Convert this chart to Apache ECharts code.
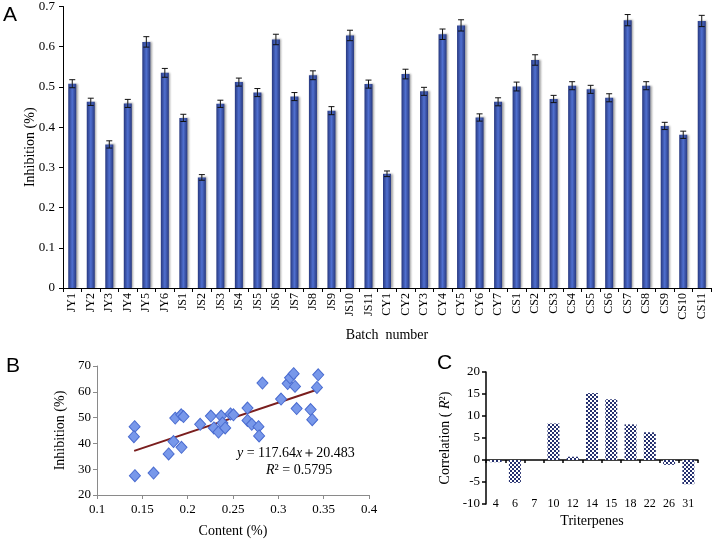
<!DOCTYPE html>
<html>
<head>
<meta charset="utf-8">
<script src="https://cdn.jsdelivr.net/npm/echarts@6/dist/echarts.min.js"></script>
<style>html,body{margin:0;padding:0;background:#fff}#c{width:714px;height:539px}</style>
</head>
<body>
<div id="c"></div>
<script>
// Panel A
const batches = ['JY1','JY2','JY3','JY4','JY5','JY6','JS1','JS2','JS3','JS4','JS5','JS6','JS7','JS8','JS9','JS10','JS11','CY1','CY2','CY3','CY4','CY5','CY6','CY7','CS1','CS2','CS3','CS4','CS5','CS6','CS7','CS8','CS9','CS10','CS11'];
const inhibition = [0.508,0.463,0.357,0.459,0.612,0.535,0.423,0.275,0.458,0.512,0.486,0.618,0.476,0.529,0.441,0.628,0.507,0.284,0.532,0.489,0.631,0.653,0.424,0.463,0.501,0.567,0.470,0.503,0.494,0.473,0.666,0.503,0.403,0.381,0.664];
const inhibitionErr = [0.010,0.009,0.009,0.010,0.013,0.011,0.009,0.007,0.009,0.010,0.010,0.013,0.010,0.011,0.010,0.013,0.010,0.007,0.012,0.010,0.013,0.014,0.009,0.010,0.011,0.013,0.009,0.010,0.010,0.010,0.014,0.010,0.009,0.009,0.014];
const yTicksA = [0,0.1,0.2,0.3,0.4,0.5,0.6,0.7];

// Panel B
const contentX = [0.1415,0.1407,0.1418,0.1624,0.179,0.1844,0.1863,0.1929,0.1954,0.1932,0.2138,0.2256,0.2289,0.234,0.237,0.2384,0.2414,0.2472,0.2505,0.266,0.266,0.2707,0.2781,0.2788,0.2825,0.303,0.3103,0.3129,0.3169,0.3184,0.3202,0.3356,0.3374,0.3426,0.344];
const inhibitionY = [46.5,42.6,27.5,28.5,35.9,40.7,49.8,51.1,50.4,38.5,47.4,50.6,46.0,44.4,50.6,47.9,46.0,51.4,51.1,53.7,48.9,47.4,46.5,42.9,63.4,57.2,63.2,65.4,67.0,62.1,53.5,53.1,49.2,61.7,66.6];
const trendX = [0.141,0.345];
const trendY = [37.1,61.1];

// Panel C
const triterpenes = ['4','6','7','10','12','14','15','18','22','26','31'];
const correlation = [-0.5,-5.2,0,8.3,0.75,15.2,13.8,8.1,6.3,-1.1,-5.5];

const serif = 'Liberation Serif';

// checkerboard pattern
const pat = document.createElement('canvas');
pat.width = 4; pat.height = 4;
const pc = pat.getContext('2d');
pc.fillStyle = '#ffffff'; pc.fillRect(0,0,4,4);
pc.fillStyle = '#25306f'; pc.fillRect(0,0,2,2); pc.fillRect(2,2,2,2);

const chart = echarts.init(document.getElementById('c'), null, {renderer:'canvas'});

const barGrad = new echarts.graphic.LinearGradient(0,0,1,0,[
  {offset:0,color:'#27387f'},{offset:0.5,color:'#5070d0'},{offset:1,color:'#27387f'}]);

const option = {
  animation: false,
  backgroundColor: '#fff',
  textStyle: {fontFamily: serif},
  grid: [
    {left:63, top:6, width:648, height:282},
    {left:97, top:366, width:272, height:129},
    {left:486, top:372, width:212, height:132}
  ],
  xAxis: [
    {gridIndex:0, type:'category', data:batches,
     name:'Batch  number', nameLocation:'middle', nameGap:40, nameMoveOverlap:false,
     nameTextStyle:{fontFamily:serif,fontSize:14,color:'#000'},
     axisLine:{lineStyle:{color:'#000',width:1}},
     axisTick:{show:true,length:4,lineStyle:{color:'#000'}},
     axisLabel:{rotate:90,fontFamily:serif,fontSize:12,color:'#000',margin:5,interval:0}},
    {gridIndex:1, type:'value', min:0.1, max:0.4, interval:0.05,
     name:'Content (%)', nameLocation:'middle', nameGap:29, nameMoveOverlap:false,
     nameTextStyle:{fontFamily:serif,fontSize:14,color:'#000'},
     axisLine:{lineStyle:{color:'#8a8a8a'}},
     axisTick:{show:true,length:4,lineStyle:{color:'#8a8a8a'}},
     splitLine:{show:false},
     axisLabel:{fontFamily:serif,fontSize:13,color:'#000',margin:8}},
    {gridIndex:2, type:'category', data:triterpenes, position:'bottom',
     axisLine:{show:false,onZero:false}, axisTick:{show:false},
     name:'Triterpenes', nameLocation:'middle', nameGap:10, nameMoveOverlap:false,
     nameTextStyle:{fontFamily:serif,fontSize:14,color:'#000'},
     axisLabel:{fontFamily:serif,fontSize:12,color:'#000',margin:0,verticalAlign:'middle',interval:0}},
    {gridIndex:2, type:'category', data:triterpenes,
     axisLine:{show:true,onZero:true,lineStyle:{color:'#000',width:1.5}},
     axisTick:{show:true,inside:true,length:3,lineStyle:{color:'#000',width:1.5}},
     axisLabel:{show:false}}
  ],
  yAxis: [
    {gridIndex:0, type:'value', min:0, max:0.7, interval:0.1,
     name:'Inhibition (%)', nameLocation:'middle', nameGap:26, nameMoveOverlap:false,
     nameTextStyle:{fontFamily:serif,fontSize:14,color:'#000'},
     axisLine:{show:true,lineStyle:{color:'#000'}},
     axisTick:{show:true,length:4,lineStyle:{color:'#000'}},
     splitLine:{show:false},
     axisLabel:{fontFamily:serif,fontSize:13,color:'#000',margin:8}},
    {gridIndex:1, type:'value', min:20, max:70, interval:10,
     name:'Inhibition (%)', nameLocation:'middle', nameGap:30, nameMoveOverlap:false,
     nameTextStyle:{fontFamily:serif,fontSize:14,color:'#000'},
     axisLine:{show:true,lineStyle:{color:'#8a8a8a'}},
     axisTick:{show:true,length:4,lineStyle:{color:'#8a8a8a'}},
     splitLine:{show:false},
     axisLabel:{fontFamily:serif,fontSize:13,color:'#000',margin:6}},
    {gridIndex:2, type:'value', min:-10, max:20, interval:5,
     name:'Correlation ( {i|R}²)', nameLocation:'middle', nameGap:34, nameMoveOverlap:false,
     nameTextStyle:{fontFamily:serif,fontSize:14,color:'#000',
       rich:{i:{fontFamily:serif,fontStyle:'italic',fontSize:14,color:'#000'}}},
     axisLine:{show:true,lineStyle:{color:'#000',width:1.5}},
     axisTick:{show:true,length:4,lineStyle:{color:'#000',width:1.5}},
     splitLine:{show:false},
     axisLabel:{fontFamily:serif,fontSize:13,color:'#000',margin:6}}
  ],
  graphic: [
    {type:'text', left:3, top:5, style:{text:'A', fontFamily:'Liberation Sans', fontSize:21, fill:'#000'}},
    {type:'text', left:6, top:356, style:{text:'B', fontFamily:'Liberation Sans', fontSize:21, fill:'#000'}},
    {type:'text', left:437, top:353, style:{text:'C', fontFamily:'Liberation Sans', fontSize:21, fill:'#000'}},
    {type:'text', left:237, top:446, style:{text:'{i|y} = 117.64{i|x}＋20.483', fontFamily:serif, fontSize:14, fill:'#000',
      rich:{i:{fontFamily:serif,fontStyle:'italic',fontSize:14}}}},
    {type:'text', left:266, top:463, style:{text:'{i|R}² = 0.5795', fontFamily:serif, fontSize:14, fill:'#000',
      rich:{i:{fontFamily:serif,fontStyle:'italic',fontSize:14}}}}
  ],
  series: [
    {type:'bar', xAxisIndex:0, yAxisIndex:0, data:inhibition, barWidth:8,
     itemStyle:{color:barGrad, shadowColor:'rgba(0,0,0,0.35)', shadowBlur:2, shadowOffsetX:1.5, shadowOffsetY:0}},
    {type:'custom', xAxisIndex:0, yAxisIndex:0, z:5,
     data: inhibition.map((v,i)=>[i, v-inhibitionErr[i], v+inhibitionErr[i]]),
     renderItem: function(params, api){
       const lo = api.coord([api.value(0), api.value(1)]);
       const hi = api.coord([api.value(0), api.value(2)]);
       const hw = 3;
       const st = {stroke:'#111', lineWidth:1};
       return {type:'group', children:[
         {type:'line', shape:{x1:hi[0],y1:hi[1],x2:lo[0],y2:lo[1]}, style:st},
         {type:'line', shape:{x1:hi[0]-hw,y1:hi[1],x2:hi[0]+hw,y2:hi[1]}, style:st},
         {type:'line', shape:{x1:lo[0]-hw,y1:lo[1],x2:lo[0]+hw,y2:lo[1]}, style:st}
       ]};
     }},
    {type:'scatter', xAxisIndex:1, yAxisIndex:1, symbol:'diamond', symbolSize:[11,12],
     data: contentX.map((x,i)=>[x, inhibitionY[i]]),
     itemStyle:{color:'#7898ea', borderColor:'#4a6cd0', borderWidth:1, opacity:1}},
    {type:'line', xAxisIndex:1, yAxisIndex:1, symbol:'none', z:1,
     data: trendX.map((x,i)=>[x, trendY[i]]),
     lineStyle:{color:'#7a1e1e', width:2}},
    {type:'bar', xAxisIndex:2, yAxisIndex:2, data:correlation, barWidth:12,
     itemStyle:{color:{image:pat, repeat:'repeat'}}}
  ]
};
chart.setOption(option);
</script>
</body>
</html>
